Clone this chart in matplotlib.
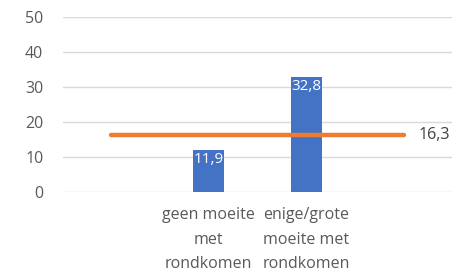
import matplotlib.pyplot as plt

categories = ["", "geen moeite\nmet\nrondkomen", "enige/grote\nmoeite met\nrondkomen", ""]
values = [None, 11.9, 32.8, None]
average = 16.3
yticks = [0, 10, 20, 30, 40, 50]

plt.rcParams["font.family"] = ["Open Sans", "DejaVu Sans"]

fig = plt.figure(figsize=(4.72, 2.74), dpi=100)
ax = fig.add_axes([0.133, 0.299, 0.825, 0.639])

x = list(range(len(categories)))
bx = [i for i, v in zip(x, values) if v is not None]
bv = [v for v in values if v is not None]
bars = ax.bar(bx, bv, width=0.32, color="#4472C4", zorder=2)
for b, v in zip(bars, bv):
    ax.text(b.get_x() + b.get_width() / 2, v - 0.4, f"{v:.1f}".replace(".", ","),
            ha="center", va="top", color="white", fontsize=11, zorder=3)

ax.plot([x[0], x[-1]], [average, average], color="#ED7D31", linewidth=3.2,
        solid_capstyle="round", zorder=3)
ax.text(x[-1] + 0.15, average, f"{average:.1f}".replace(".", ","),
        ha="left", va="center", color="#404040", fontsize=11.5)

ax.set_xlim(-0.5, len(categories) - 0.5)
ax.set_ylim(0, 50)
ax.set_yticks(yticks)
ax.yaxis.grid(True, color="#D9D9D9", linewidth=1, zorder=0)
ax.set_axisbelow(True)
for s in ax.spines.values():
    s.set_visible(False)
ax.tick_params(axis="both", length=0, colors="#595959", labelsize=11.5)
ax.tick_params(axis="y", pad=14)
ax.set_xticks(x)
ax.set_xticklabels(categories, linespacing=1.7)
ax.tick_params(axis="x", pad=11)

fig.savefig("out.png", dpi=100)
